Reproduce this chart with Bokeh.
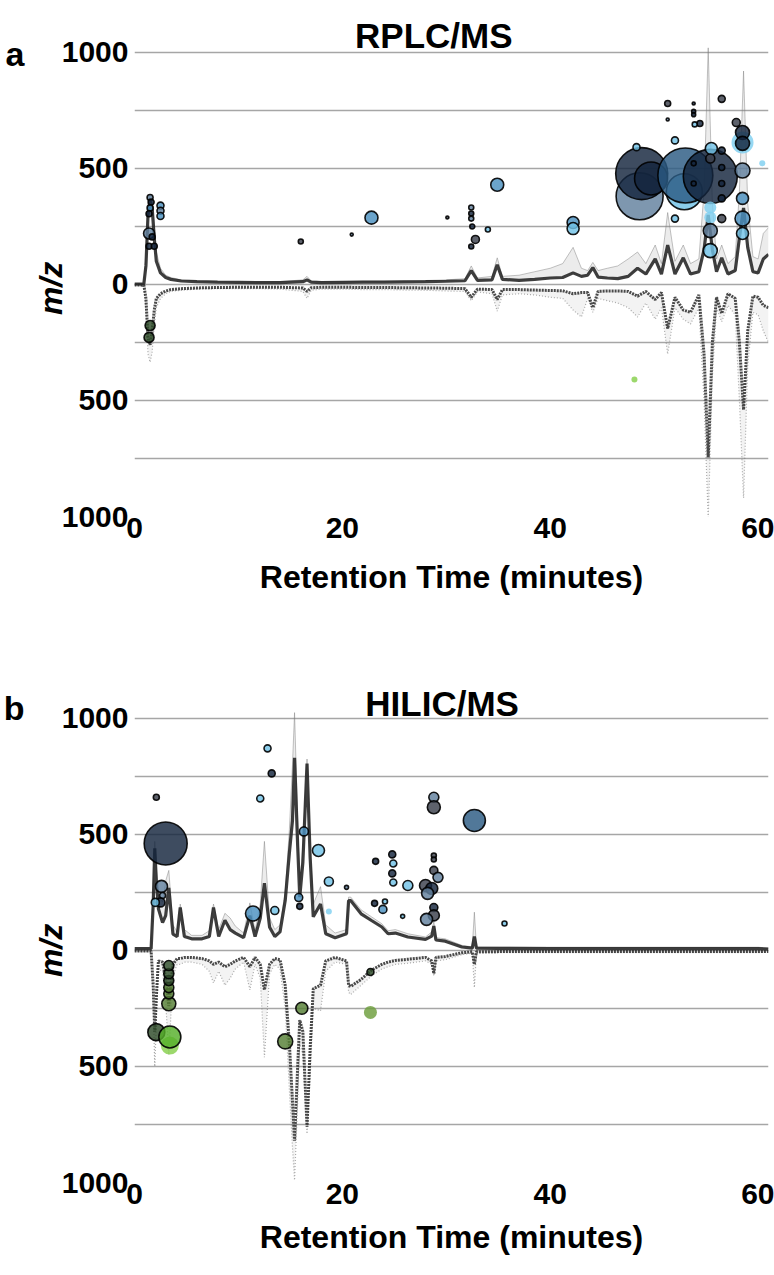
from bokeh.plotting import figure
from bokeh.models import ColumnDataSource, FixedTicker, LinearAxis, Range1d
from bokeh.layouts import column
from bokeh.embed import file_html
from bokeh.resources import INLINE
from bokeh.core.properties import value

# ---------------- data ----------------
x_ticks = [0, 20, 40, 60]
y_ticks = [-1000, -750, -500, -250, 0, 250, 500, 750, 1000]
y_tick_labels = ["1000", "", "500", "", "0", "", "500", "", "1000"]

# RPLC/MS chromatogram (retention time, scaled intensity); negative mode stored as positive values
rt_a = [0, 0.9, 1.1, 1.3, 1.5, 1.7, 1.9, 2.1, 2.5, 3.0,
        3.5, 4.5, 6, 8, 10, 12, 14, 16.2, 16.6, 17.0,
        18, 20, 22, 24, 26, 28, 30, 31.8, 32.4, 33.0,
        34.4, 34.9, 35.4, 37, 38.5, 40, 41.2, 42.2, 43.0, 43.6,
        44.1, 44.6, 45.5, 46.5, 47.5, 48.4, 49.2, 50.1, 50.7, 51.3,
        52.0, 52.8, 53.5, 54.3, 54.8, 55.2, 55.6, 56.0, 56.5, 57.1,
        57.8, 58.2, 58.6, 59.0, 59.5, 60.0, 60.5, 61.0]
pos_main_a = [2, 3, 80, 300, 360, 330, 200, 100, 50, 30,
              22, 15, 12, 10, 9, 8, 8, 12, 20, 10,
              8, 9, 10, 10, 11, 12, 14, 16, 60, 18,
              20, 85, 22, 18, 22, 28, 30, 50, 35, 40,
              73, 32, 28, 25, 35, 70, 45, 110, 45, 170,
              45, 115, 45, 55, 150, 300, 150, 55, 115, 45,
              60, 200, 330, 160, 55, 50, 110, 130]
pos_max_a = [2, 3, 120, 340, 390, 370, 260, 140, 70, 40,
             30, 20, 15, 12, 11, 10, 12, 20, 35, 15,
             12, 12, 14, 14, 15, 17, 20, 25, 80, 28,
             35, 115, 35, 40, 55, 70, 90, 160, 70, 60,
             95, 60, 70, 80, 110, 140, 90, 170, 90, 310,
             100, 170, 90, 110, 400, 1020, 350, 110, 170, 90,
             120, 400, 920, 350, 120, 110, 220, 245]
neg_main_a = [2, 3, 60, 230, 260, 200, 110, 60, 40, 28,
              22, 18, 15, 13, 12, 12, 12, 15, 30, 14,
              12, 12, 13, 13, 14, 15, 16, 18, 55, 20,
              22, 65, 22, 22, 24, 26, 27, 40, 35, 35,
              100, 30, 28, 28, 30, 50, 30, 65, 35, 190,
              55, 110, 120, 45, 300, 745, 250, 55, 125, 40,
              60, 250, 540, 200, 50, 55, 90, 100]
neg_max_a = [3, 5, 120, 300, 335, 290, 180, 100, 60, 40,
             30, 25, 20, 18, 18, 18, 20, 30, 60, 25,
             20, 20, 22, 22, 24, 25, 28, 30, 70, 32,
             40, 115, 45, 40, 45, 55, 60, 110, 140, 60,
             120, 60, 70, 80, 100, 140, 80, 150, 100, 300,
             100, 150, 170, 100, 500, 1010, 400, 100, 160, 90,
             130, 500, 920, 350, 120, 130, 200, 250]

# HILIC/MS chromatogram
rt_b = [0, 1.6, 1.8, 1.95, 2.1, 2.3, 2.7, 3.0, 3.3, 3.7,
        4.1, 4.4, 4.8, 5.5, 6.5, 7.2, 7.6, 8.1, 8.7, 9.2,
        9.7, 10.5, 11.1, 11.6, 12.1, 12.5, 13.0, 13.5, 14.0, 14.5,
        14.9, 15.2, 15.4, 15.7, 15.9, 16.2, 16.6, 16.9, 17.2, 17.9,
        18.4, 19.3, 20.4, 20.6, 20.8, 21.8, 22.8, 23.8, 24.4, 25.1,
        26.3, 28.0, 28.6, 28.8, 29.0, 29.9, 31.5, 32.5, 32.7, 32.9,
        35, 40, 45, 50, 55, 60, 61]
pos_main_b = [8, 8, 200, 440, 300, 180, 120, 150, 270, 70,
              60, 185, 60, 50, 50, 60, 185, 60, 130, 90,
              75, 55, 150, 60, 140, 290, 100, 60, 80, 215,
              420, 560, 830, 450, 230, 380, 805, 400, 145, 200,
              72, 55, 72, 215, 215, 158, 129, 101, 72, 75,
              58, 48, 62, 105, 45, 40, 15, 10, 60, 10,
              9, 8, 8, 8, 8, 8, 6]
pos_max_b = [10, 10, 250, 470, 360, 230, 210, 300, 345, 110,
             80, 200, 90, 65, 65, 85, 200, 90, 160, 140,
             105, 75, 205, 85, 200, 470, 140, 90, 110, 250,
             520, 800, 1025, 560, 280, 450, 825, 450, 200, 275,
             110, 75, 90, 230, 230, 175, 145, 115, 85, 90,
             72, 58, 80, 125, 55, 50, 22, 15, 165, 15,
             14, 14, 14, 14, 14, 14, 10]
neg_main_b = [2, 3, 150, 350, 200, 45, 50, 120, 240, 60,
              35, 35, 30, 30, 35, 45, 60, 50, 70, 60,
              45, 30, 70, 30, 60, 170, 60, 35, 40, 150,
              400, 650, 820, 500, 300, 350, 760, 420, 165, 150,
              45, 30, 45, 150, 155, 125, 85, 60, 50, 43,
              38, 30, 45, 100, 30, 26, 10, 6, 60, 6,
              5, 5, 5, 5, 5, 5, 4]
neg_max_b = [3, 5, 250, 500, 320, 80, 90, 220, 450, 110,
             60, 60, 50, 50, 60, 90, 140, 90, 150, 120,
             80, 50, 170, 60, 120, 460, 100, 60, 80, 250,
             600, 850, 990, 650, 400, 450, 790, 550, 250, 260,
             90, 50, 60, 180, 190, 150, 110, 80, 70, 60,
             55, 45, 60, 110, 45, 40, 18, 12, 160, 12,
             10, 10, 10, 10, 10, 10, 6]

# Features (retention time, m/z, relative abundance, colour group), in drawing order
a_pos_rt = [52.9, 48.6, 48.8, 49.7, 53.0, 55.4, 58.5, 55.4, 55.4,
            1.5, 1.6, 1.5, 1.4, 1.4, 1.7, 1.4, 1.9, 2.5, 2.5, 2.5,
            16.0, 20.9, 22.8, 30.1, 32.4, 32.4, 32.4, 32.5, 32.8, 32.4, 34.0, 34.9,
            42.2, 42.2, 48.3,
            51.3, 51.3, 53.8, 53.8, 53.8, 54.4, 53.9, 56.5, 52.0, 55.5, 56.5, 55.4,
            53.8, 53.8, 56.5, 56.5, 56.5, 52.0, 56.5, 55.4, 55.4, 57.9,
            58.5, 58.5, 58.5, 58.5, 58.5, 58.5, 60.4]
a_pos_mz = [400, 380, 478, 457, 470, 466, 612, 289, 332,
            375, 355, 330, 305, 220, 205, 165, 165, 340, 318, 295,
            185, 215, 288, 289, 332, 306, 284, 250, 194, 164, 237, 430,
            267, 241, 592,
            780, 711, 780, 746, 732, 694, 690, 800, 621, 586, 577, 543,
            522, 435, 504, 435, 371, 284, 284, 232, 146, 698,
            655, 608, 491, 371, 284, 220, 522]
a_pos_abund = [36, 47, 52, 33, 55, 54, 22, 12, 12,
               6, 6, 6, 6, 11, 6, 6, 6, 7, 7, 7,
               5, 3, 13, 3, 5, 5, 5, 5, 8, 5, 5, 13,
               12, 12, 7,
               6, 3, 3, 4, 4, 6, 5, 7, 7, 12, 7, 9,
               5, 5, 6, 6, 7, 7, 8, 14, 14, 8,
               14, 14, 15, 12, 15, 12, 6]
a_pos_grp = [4, 2, 0, 0, 1, 0, 6, 6, 6,
             2, 0, 3, 0, 2, 0, 0, 0, 3, 2, 3,
             5, 2, 3, 5, 2, 0, 2, 0, 5, 0, 4, 3,
             3, 4, 4,
             5, 2, 0, 0, 0, 0, 4, 5, 4, 4, 0, 5,
             0, 0, 0, 0, 0, 4, 5, 2, 4, 5,
             0, 0, 2, 3, 3, 4, 6]
a_neg_rt = [1.5, 1.4, 48.1]
a_neg_mz = [177, 228, 410]
a_neg_abund = [10, 10, 6]
a_neg_grp = [0, 0, 3]

b_pos_rt = [3.0, 2.1, 2.6, 2.7, 2.5, 2.0,
            11.4, 12.1, 12.8, 13.2, 13.5, 15.8, 15.9, 16.3, 17.7, 18.7, 18.7, 20.4,
            23.2, 23.1, 24.1, 23.9, 24.8, 24.9, 24.8, 24.9, 26.3, 25.8,
            28.8, 28.8, 28.8, 28.8, 28.8, 29.2, 28.0, 28.6, 28.2, 28.8, 28.8, 28.1,
            32.7, 35.6]
b_pos_mz = [461, 660, 276, 237, 207, 207,
            159, 655, 871, 763, 172, 228, 190, 513, 431, 297, 168, 272,
            384, 203, 211, 177, 414, 375, 332, 293, 280, 147,
            660, 617, 409, 392, 345, 315, 280, 267, 246, 185, 151, 134,
            560, 116]
b_pos_abund = [43, 6, 12, 6, 9, 8,
               15, 7, 7, 7, 8, 8, 6, 9, 12, 9, 6, 4,
               6, 6, 5, 8, 7, 7, 7, 7, 10, 4,
               10, 13, 5, 5, 8, 10, 12, 12, 12, 8, 11, 12,
               22, 5]
b_pos_grp = [0, 5, 2, 2, 0, 4,
             3, 4, 4, 0, 4, 3, 0, 3, 4, 4, 6, 2,
             0, 0, 4, 3, 0, 4, 0, 4, 4, 4,
             2, 5, 5, 5, 5, 2, 5, 0, 2, 0, 5, 2,
             1, 4]
b_neg_rt = [2.1, 3.4, 3.4, 3.3, 3.3, 3.3, 3.3, 3.3, 3.3, 14.5, 16.1, 22.7, 22.7]
b_neg_mz = [352, 410, 373, 230, 187, 160, 130, 100, 65, 392, 249, 93, 267]
b_neg_abund = [17, 18, 22, 14, 10, 10, 10, 10, 10, 15, 12, 7, 13]
b_neg_grp = [0, 3, 2, 1, 1, 1, 0, 0, 0, 1, 1, 0, 4]

# ---------------- styles ----------------
FONT = "Liberation Sans"
BLUES = ["#13243d", "#2b5a82", "#62809e", "#4a90bf", "#72c2e6", "#3a404c", "#7fd0f0"]
BLUE_OUTLINE = [1, 1, 1, 1, 1, 1, 0]
GREENS = ["#2d4a28", "#557f34", "#55b02a", "#86d04c", "#6c9e3c"]
GREEN_OUTLINE = [1, 1, 1, 0, 0]


def bubble_source(rt, mz, abund, grp, palette, outline, sign):
    return ColumnDataSource(dict(
        x=list(rt),
        y=[sign * v for v in mz],
        size=list(abund),
        fill=[palette[g] for g in grp],
        lalpha=[0.9 * outline[g] for g in grp],
    ))


def text_axis(tick, label, size, style, standoff, orientation="horizontal"):
    ax = LinearAxis(ticker=FixedTicker(ticks=[tick]), major_label_overrides={tick: label})
    ax.axis_line_color = None
    ax.major_tick_line_color = None
    ax.minor_tick_line_color = None
    ax.major_tick_out = 0
    ax.major_tick_in = 0
    ax.major_label_standoff = standoff
    ax.major_label_orientation = orientation
    ax.major_label_text_font = FONT
    ax.major_label_text_font_style = style
    ax.major_label_text_font_size = size
    ax.major_label_text_color = "black"
    return ax


def panel(title, title_x, title_y, tag, tag_y, mz_y, rt, pmain, pmax, nmain, nmax,
          bpos, bneg, height, y_top, bottom, xlab_standoff):
    p = figure(width=774, height=height, x_range=Range1d(0, 61), y_range=Range1d(-1000, y_top),
               output_backend="svg", toolbar_location=None, title=None,
               min_border_left=126, min_border_right=6, min_border_top=0, min_border_bottom=bottom)
    p.outline_line_color = None
    p.background_fill_color = "white"
    p.border_fill_color = "white"
    p.xgrid.grid_line_color = None
    p.ygrid.grid_line_color = "#a6a6a6"
    p.ygrid.grid_line_width = 1.4
    p.yaxis.ticker = FixedTicker(ticks=y_ticks)
    p.ygrid.ticker = FixedTicker(ticks=y_ticks)
    p.yaxis.major_label_overrides = {t: l for t, l in zip(y_ticks, y_tick_labels)}
    p.xaxis.ticker = FixedTicker(ticks=x_ticks)
    for ax in (p.xaxis[0], p.yaxis[0]):
        ax.axis_line_color = None
        ax.major_tick_line_color = None
        ax.minor_tick_line_color = None
        ax.major_tick_out = 0
        ax.major_tick_in = 0
        ax.major_label_text_font = FONT
        ax.major_label_text_font_style = "bold"
        ax.major_label_text_font_size = "30px"
        ax.major_label_text_color = "black"
    p.yaxis.major_label_standoff = 6
    p.xaxis.major_label_standoff = 1
    p.xaxis.axis_label = "Retention Time (minutes)"
    p.xaxis.axis_label_text_font = FONT
    p.xaxis.axis_label_text_font_style = "bold"
    p.xaxis.axis_label_text_font_size = "32px"
    p.xaxis.axis_label_text_color = "black"
    p.xaxis.axis_label_standoff = xlab_standoff

    # y-axis title and panel tag as extra left axes
    p.add_layout(text_axis(mz_y, "m/z", "32px", "bold italic", -11, "vertical"), "left")
    p.add_layout(text_axis(tag_y, tag, "34px", "bold", 6), "left")

    neg_main = [-v for v in nmain]
    neg_max = [-v for v in nmax]
    # chromatogram overlays
    p.varea(x=rt, y1=pmain, y2=pmax, fill_color="#8a8a8a", fill_alpha=0.16)
    p.line(rt, pmax, line_color="#7a7a7a", line_alpha=0.45, line_width=1)
    p.line(rt, pmain, line_color="#1c1c1c", line_alpha=0.85, line_width=3.2)
    p.varea(x=rt, y1=neg_main, y2=neg_max, fill_color="#8a8a8a", fill_alpha=0.10)
    p.line(rt, neg_max, line_color="#6a6a6a", line_alpha=0.55, line_width=1.2, line_dash="1 2")
    p.line(rt, neg_main, line_color="#2a2a2a", line_alpha=0.85, line_width=3, line_dash="2 1")

    for src in (bneg, bpos):
        p.scatter(x="x", y="y", size="size", source=src, marker="circle",
                  fill_color="fill", fill_alpha=0.82, line_color="black",
                  line_alpha="lalpha", line_width=1.6)

    p.text(x=[title_x], y=[title_y], text=[title], text_align="center",
           text_baseline="alphabetic", text_font=value(FONT), text_font_style="bold",
           text_font_size="35px", text_color="black")
    return p


pa = panel("RPLC/MS", 28.8, 1073, "a", 995, -17,
           rt_a, pos_main_a, pos_max_a, neg_main_a, neg_max_a,
           bubble_source(a_pos_rt, a_pos_mz, a_pos_abund, a_pos_grp, BLUES, BLUE_OUTLINE, 1),
           bubble_source(a_neg_rt, a_neg_mz, a_neg_abund, a_neg_grp, GREENS, GREEN_OUTLINE, -1),
           610, 1224, 94, 18)
pb = panel("HILIC/MS", 29.6, 1065, "b", 1043, 0,
           rt_b, pos_main_b, pos_max_b, neg_main_b, neg_max_b,
           bubble_source(b_pos_rt, b_pos_mz, b_pos_abund, b_pos_grp, BLUES, BLUE_OUTLINE, 1),
           bubble_source(b_neg_rt, b_neg_mz, b_neg_abund, b_neg_grp, GREENS, GREEN_OUTLINE, -1),
           656, 1465, 84, 12)

layout = column(pa, pb, spacing=0)
open("out.html", "w").write(file_html(layout, INLINE))
